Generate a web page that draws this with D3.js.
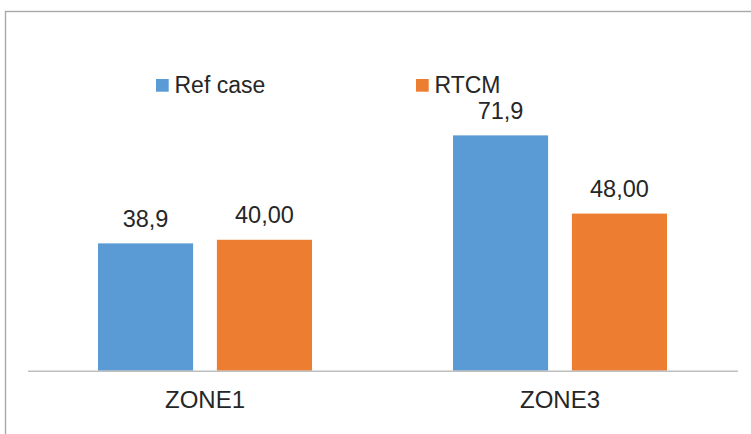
<!DOCTYPE html>
<html>
<head>
<meta charset="utf-8">
<script src="https://cdn.jsdelivr.net/npm/d3@7"></script>
<style>
  html, body { margin: 0; padding: 0; background: #fff; }
  svg { display: block; font-family: "Liberation Sans", Arial, sans-serif; }
</style>
</head>
<body>
<svg id="chart" width="751" height="434"></svg>
<script>
// Chart data
const categories = ["ZONE1", "ZONE3"];
const seriesNames = ["Ref case", "RTCM"];
const refCase = [38.9, 71.9];
const rtcm = [40.00, 48.00];
const valueLabels = [["38,9", "71,9"], ["40,00", "48,00"]];
const seriesColors = ["#5b9bd5", "#ed7d31"];

const seriesValues = [refCase, rtcm];

const svg = d3.select("#chart");
const W = 751, H = 434;

// Chart area frame
svg.append("rect")
  .attr("x", 5.5).attr("y", 11.5)
  .attr("width", W + 20).attr("height", H + 20)
  .attr("fill", "#fff")
  .attr("stroke", "#a8a8a8")
  .attr("stroke-width", 1.4);

// Scales
const baseY = 370.7;
const pxPerUnit = 3.273;
const y = d3.scaleLinear().domain([0, 80]).range([baseY, baseY - 80 * pxPerUnit]);

const x0 = d3.scaleBand().domain(categories).range([27.5, 737.5]).padding(0);
const groupWidth = 214;
const x1 = d3.scaleBand().domain(seriesNames).range([0, groupWidth]).paddingInner(0.2);

const rows = categories.map((c, i) => ({
  cat: c,
  bars: seriesNames.map((s, j) => ({ s, j, v: seriesValues[j][i], label: valueLabels[j][i] }))
}));

const groups = svg.selectAll("g.grp").data(rows).join("g")
  .attr("class", "grp")
  .attr("transform", d => `translate(${x0(d.cat) + (x0.bandwidth() - groupWidth) / 2},0)`);

groups.selectAll("rect").data(d => d.bars).join("rect")
  .attr("x", d => x1(d.s))
  .attr("y", d => y(d.v))
  .attr("width", x1.bandwidth())
  .attr("height", d => y(0) - y(d.v))
  .attr("fill", d => seriesColors[d.j]);

groups.selectAll("text").data(d => d.bars).join("text")
  .attr("x", d => x1(d.s) + x1.bandwidth() / 2)
  .attr("y", d => y(d.v) - 16.5)
  .attr("text-anchor", "middle")
  .attr("font-size", "23.5px")
  .attr("fill", "#262626")
  .text(d => d.label);

// Category axis
const xAxis = d3.axisBottom(x0).tickSize(0).tickPadding(0);
const axisG = svg.append("g").attr("transform", `translate(0,${baseY})`).call(xAxis);
axisG.select(".domain").attr("stroke", "#bfbfbf").attr("stroke-width", 1.6);
axisG.selectAll(".tick text")
  .attr("dy", null)
  .attr("y", 37.6)
  .attr("font-size", "24px")
  .attr("font-family", "\"Liberation Sans\", Arial, sans-serif")
  .attr("fill", "#262626");

// Legend
const legendX = [156, 416];
const legend = svg.selectAll("g.leg").data(seriesNames).join("g")
  .attr("class", "leg")
  .attr("transform", (d, i) => `translate(${legendX[i]},79)`);
legend.append("rect")
  .attr("width", 12.7).attr("height", 12.7)
  .attr("fill", (d, i) => seriesColors[i]);
legend.append("text")
  .attr("x", 18.5).attr("y", 14.3)
  .attr("font-size", "23px")
  .attr("fill", "#262626")
  .text(d => d);
</script>
</body>
</html>
